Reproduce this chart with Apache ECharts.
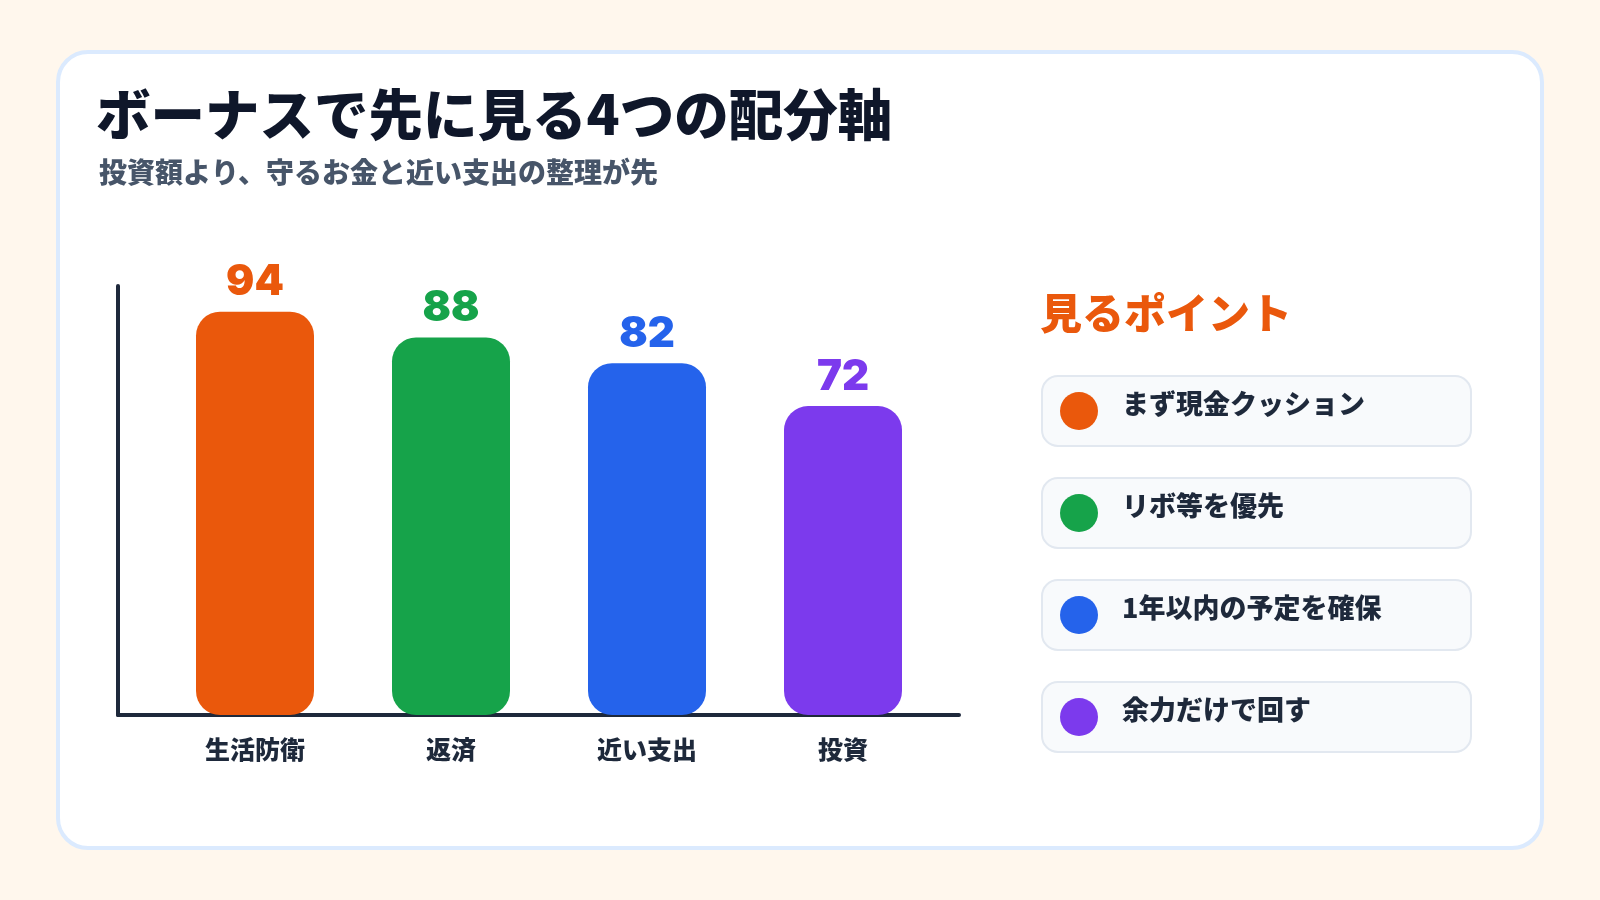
<!DOCTYPE html>
<html>
<head>
<meta charset="utf-8">
<script src="https://cdn.jsdelivr.net/npm/echarts@6/dist/echarts.min.js"></script>
<style>
  html, body { margin: 0; padding: 0; background: #fff7ed; }
  #main { width: 1600px; height: 900px; }
</style>
</head>
<body>
<div id="main"></div>
<script>
// データ
var categories = ['生活防衛', '返済', '近い支出', '投資'];
var values = [94, 88, 82, 72];
var barColors = ['#ea580c', '#16a34a', '#2563eb', '#7c3aed'];
var pointNotes = ['まず現金クッション', 'リボ等を優先', '1年以内の予定を確保', '余力だけで回す'];

var FONT = '"Noto Sans CJK JP", "Noto Sans", sans-serif';

var chart = echarts.init(document.getElementById('main'));

// 右側の「見るポイント」カード
var pointGraphics = [];
pointNotes.forEach(function (txt, i) {
    var top = 376 + i * 102;
    pointGraphics.push({
        type: 'rect',
        shape: { x: 1042, y: top, width: 429, height: 70, r: 16 },
        style: { fill: '#f8fafc', stroke: '#e2e8f0', lineWidth: 2 }
    });
    pointGraphics.push({
        type: 'circle',
        shape: { cx: 1079, cy: top + 35, r: 19 },
        style: { fill: barColors[i] }
    });
    pointGraphics.push({
        type: 'text',
        x: 1122, y: top + 28,
        style: {
            text: txt, fill: '#1e293b', font: '900 27px ' + FONT,
            textVerticalAlign: 'middle'
        }
    });
});

var option = {
    backgroundColor: '#fff7ed',
    graphic: [
        {
            type: 'rect', z: -10,
            shape: { x: 58, y: 52, width: 1484, height: 796, r: 30 },
            style: { fill: '#ffffff', stroke: '#dbeafe', lineWidth: 4 }
        },
        {
            type: 'text', x: 96, y: 114,
            style: {
                text: 'ボーナスで先に見る4つの配分軸', fill: '#0f172a',
                font: '900 54.5px ' + FONT, textVerticalAlign: 'middle'
            }
        },
        {
            type: 'text', x: 99, y: 172,
            style: {
                text: '投資額より、守るお金と近い支出の整理が先', fill: '#475569',
                font: '900 28px ' + FONT, textVerticalAlign: 'middle'
            }
        },
        {
            type: 'text', x: 1040, y: 313,
            style: {
                text: '見るポイント', fill: '#ea580c',
                font: '900 42px ' + FONT, textVerticalAlign: 'middle'
            }
        }
    ].concat(pointGraphics),
    grid: [
        // 軸線だけのグリッド
        { left: 118, top: 286, width: 841, height: 429 },
        // 棒グラフのグリッド
        { left: 157, top: 286, width: 784, height: 429 }
    ],
    xAxis: [
        {
            gridIndex: 0, type: 'value', min: 0, max: 1,
            axisLine: { show: true, lineStyle: { color: '#1e293b', width: 4 } },
            axisTick: { show: false }, axisLabel: { show: false }, splitLine: { show: false }
        },
        {
            gridIndex: 1, type: 'category', data: categories,
            axisLine: { show: false }, axisTick: { show: false },
            axisLabel: {
                color: '#1e293b', fontSize: 25, fontWeight: 900,
                fontFamily: FONT, margin: 22
            }
        }
    ],
    yAxis: [
        {
            gridIndex: 0, type: 'value', min: 0, max: 100,
            axisLine: { show: true, lineStyle: { color: '#1e293b', width: 4 } },
            axisTick: { show: false }, axisLabel: { show: false }, splitLine: { show: false }
        },
        {
            gridIndex: 1, type: 'value', min: 0, max: 100,
            axisLine: { show: false }, axisTick: { show: false },
            axisLabel: { show: false }, splitLine: { show: false }
        }
    ],
    series: [
        {
            type: 'bar',
            xAxisIndex: 1, yAxisIndex: 1,
            barWidth: 118,
            data: values.map(function (v, i) {
                return {
                    value: v,
                    itemStyle: { color: barColors[i] },
                    label: { color: barColors[i] }
                };
            }),
            itemStyle: { borderRadius: 24 },
            label: {
                show: true, position: 'top', distance: 8,
                fontSize: 42, fontWeight: 900, fontFamily: 'Inter, "DejaVu Sans", sans-serif'
            },
            animation: false
        }
    ],
    animation: false
};

chart.setOption(option);
</script>
</body>
</html>
